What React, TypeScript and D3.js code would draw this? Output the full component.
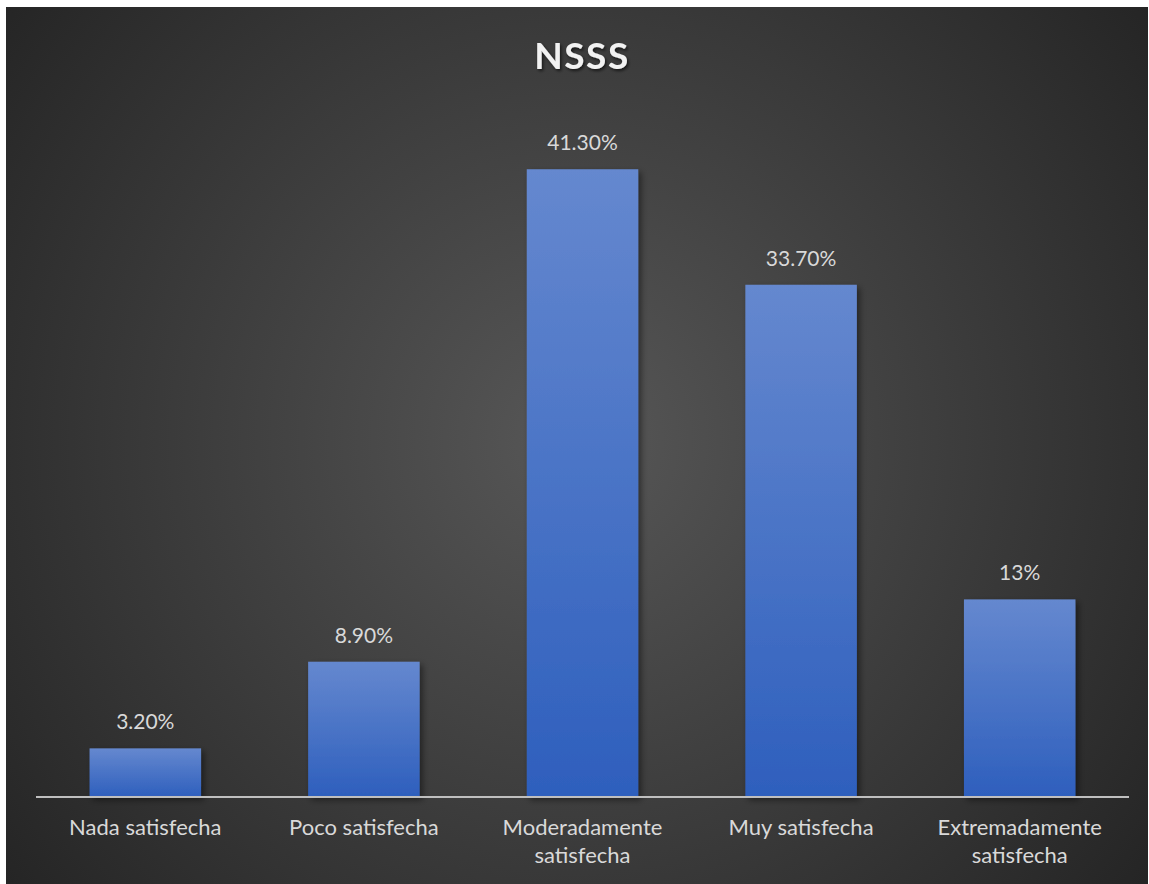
import React from "react";
import * as d3 from "d3";

const categories: string[][] = [
  ["Nada satisfecha"],
  ["Poco satisfecha"],
  ["Moderadamente", "satisfecha"],
  ["Muy satisfecha"],
  ["Extremadamente", "satisfecha"],
];
const values: number[] = [3.2, 8.9, 41.3, 33.7, 13];
const valueLabels: string[] = ["3.20%", "8.90%", "41.30%", "33.70%", "13%"];
const title = "NSSS";

const W = 1149;
const H = 884;
const FONT = "Lato, 'Open Sans', sans-serif";

export default function App() {
  const x = d3
    .scaleBand<number>()
    .domain(d3.range(values.length))
    .range([36, 1129])
    .paddingInner(0.49)
    .paddingOuter(0.245);
  const y = d3.scaleLinear().domain([0, 45]).range([797, 797 - 45 * 15.2]);

  return (
    <svg
      width={W}
      height={H}
      style={{ position: "absolute", left: 0, top: 0, display: "block" }}
    >
      <defs>
        <radialGradient id="bg" cx="575" cy="440" r="720" gradientUnits="userSpaceOnUse">
          <stop offset="0" stopColor="#575757" />
          <stop offset="1" stopColor="#252525" />
        </radialGradient>
        <linearGradient id="bar" x1="0" y1="0" x2="0" y2="1">
          <stop offset="0" stopColor="#6588cf" />
          <stop offset="1" stopColor="#2e5fbd" />
        </linearGradient>
        <filter id="shadow" x="-20%" y="-20%" width="150%" height="140%">
          <feDropShadow dx="3" dy="3" stdDeviation="3" floodColor="#000" floodOpacity="0.45" />
        </filter>
        <filter id="tshadow" x="-20%" y="-20%" width="150%" height="150%">
          <feDropShadow dx="1.5" dy="2" stdDeviation="1.5" floodColor="#000" floodOpacity="0.6" />
        </filter>
      </defs>
      <rect x={0} y={0} width={W} height={H} fill="#ffffff" />
      <rect x={6} y={7} width={1142} height={H - 7} fill="url(#bg)" />
      <text
        x={582}
        y={69}
        textAnchor="middle"
        fontFamily={FONT}
        fontWeight={700}
        fontSize={37}
        letterSpacing={1.5}
        fill="#f2f2f2"
        filter="url(#tshadow)"
      >
        {title}
      </text>
      {values.map((v, i) => (
        <rect
          key={"b" + i}
          x={x(i)!}
          y={y(v)}
          width={x.bandwidth()}
          height={y(0) - y(v)}
          fill="url(#bar)"
          filter="url(#shadow)"
        />
      ))}
      <line x1={36} x2={1129} y1={y(0)} y2={y(0)} stroke="#bfbfbf" strokeWidth={2} />
      {values.map((v, i) => (
        <text
          key={"v" + i}
          x={x(i)! + x.bandwidth() / 2}
          y={y(v) - 19}
          textAnchor="middle"
          fontFamily={FONT}
          fontSize={21}
          fill="#d9d9d9"
        >
          {valueLabels[i]}
        </text>
      ))}
      {categories.map((lines, i) => (
        <text
          key={"c" + i}
          x={x(i)! + x.bandwidth() / 2}
          y={835}
          textAnchor="middle"
          fontFamily={FONT}
          fontSize={22}
          fill="#d9d9d9"
        >
          {lines.map((l, j) => (
            <tspan key={j} x={x(i)! + x.bandwidth() / 2} dy={j === 0 ? 0 : 28}>
              {l}
            </tspan>
          ))}
        </text>
      ))}
    </svg>
  );
}
